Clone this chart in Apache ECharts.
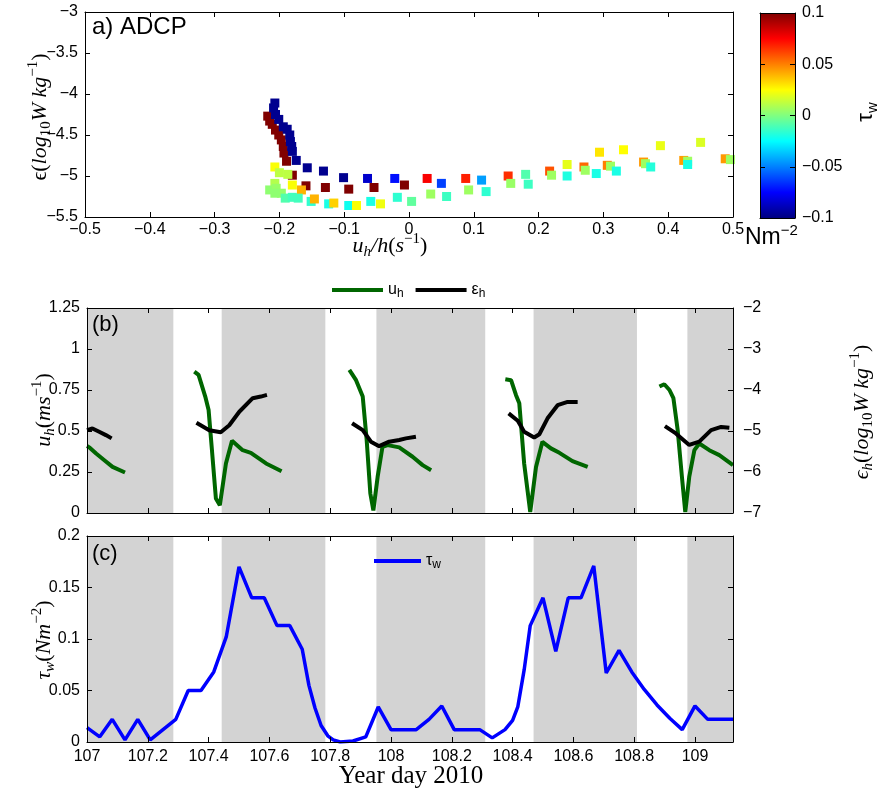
<!DOCTYPE html>
<html><head><meta charset="utf-8">
<script src="https://cdn.jsdelivr.net/npm/echarts@6/dist/echarts.min.js"></script>
<style>html,body{margin:0;padding:0;background:#fff}#c{width:884px;height:796px}</style>
</head><body><div id="c"></div><script>
// ---------- Panel (a) scatter: u_h/h, epsilon, tau_w ----------
const scatterX = [
 -0.218,-0.215,-0.211,-0.206,-0.201,-0.197,-0.194,-0.193,-0.189,-0.180,-0.159,-0.129,-0.093,-0.054,-0.007,
 -0.207,-0.209,-0.206,-0.201,-0.194,-0.188,-0.184,-0.183,-0.181,-0.180,-0.174,-0.157,-0.132,-0.101,
 -0.064,-0.022,0.050,0.112,
 0.028,0.0875,0.153,0.217,0.270,0.306,0.362,0.424,0.488,
 0.244,0.294,0.331,0.388,0.450,
 0.0335,0.092,0.157,0.220,0.272,0.311,0.365,0.430,0.496,
 -0.059,-0.018,0.004,0.058,0.119,0.184,0.180,0.244,0.289,0.320,0.373,0.430,
 -0.207,-0.200,-0.187,-0.180,-0.166,-0.207,-0.215,-0.205,-0.197,-0.207,-0.191,-0.180,-0.171,
 -0.151,-0.146,-0.124,-0.116,-0.093,-0.081,-0.044
];
const scatterY = [
 -4.27,-4.33,-4.37,-4.44,-4.50,-4.56,-4.64,-4.72,-4.82,-4.99,-5.12,-5.14,-5.16,-5.14,-5.11,
 -4.11,-4.17,-4.25,-4.31,-4.40,-4.43,-4.50,-4.58,-4.64,-4.70,-4.81,-4.90,-4.94,-5.02,
 -5.03,-5.03,-5.09,-5.05,
 -5.03,-5.03,-5.00,-4.94,-4.89,-4.87,-4.83,-4.81,-4.79,
 -4.86,-4.71,-4.68,-4.63,-4.59,
 -5.22,-5.17,-5.09,-4.99,-4.93,-4.88,-4.85,-4.82,-4.80,
 -5.31,-5.26,-5.31,-5.25,-5.19,-5.10,-4.98,-5.00,-4.97,-4.94,-4.89,-4.86,
 -4.89,-4.96,-4.98,-5.11,-5.17,-5.09,-5.17,-5.15,-5.21,-5.21,-5.27,-5.26,-5.27,
 -5.31,-5.28,-5.34,-5.33,-5.36,-5.36,-5.34
];
const scatterTau = [
 0.1,0.1,0.1,0.1,0.1,0.1,0.1,0.1,0.1,0.1,0.1,0.1,0.1,0.1,0.1,
 -0.097,-0.097,-0.097,-0.097,-0.097,-0.097,-0.097,-0.097,-0.097,-0.097,-0.097,-0.097,-0.097,-0.097,
 -0.085,-0.072,-0.0625,-0.044,
 0.076,0.069,0.066,0.059,0.055,0.050,0.045,0.044,0.045,
 0.020,0.030,0.025,0.021,0.018,
 0.006,0.006,0.005,0.006,0.006,0.006,0.006,0.006,0.006,
 -0.020,-0.016,-0.006,-0.013,-0.016,-0.013,-0.009,-0.019,-0.020,-0.020,-0.018,-0.020,
 0.024,0.012,0.012,0.024,0.040,0.010,0.003,0.005,0.004,0.003,-0.009,-0.012,-0.012,
 -0.016,0.040,-0.020,0.034,-0.022,0.024,0.022
];
// ---------- Colorbar ----------
const cbarTicks = [-0.1,-0.05,0,0.05,0.1];
const jet = ['#000080','#0000ff','#0080ff','#00ffff','#80ff80','#ffff00','#ff8000','#ff0000','#800000'];
// ---------- Night shading (b, c) ----------
const bandStart = [107.0, 107.443, 107.952, 108.469, 108.975];
const bandEnd   = [107.284, 107.784, 108.310, 108.809, 109.125];
// ---------- Panel (b) u_h (left axis) ----------
const uhTime = [107.0,107.008,107.03,107.057,107.084,107.125, 107.2,
 107.353,107.367,107.389,107.40,107.411,107.424,107.437,107.457,107.477,107.512,107.539,107.589,107.64, 107.7,
 107.863,107.885,107.907,107.92,107.932,107.942,107.956,107.972,107.989,108.027,108.071,108.104,108.132, 108.2,
 108.376,108.395,108.411,108.422,108.438,108.458,108.477,108.498,108.526,108.554,108.597,108.647, 108.7,
 108.883,108.899,108.916,108.929,108.943,108.957,108.968,108.981,108.998,109.014,109.047,109.08,109.125];
const uhVals = [0.408,0.40,0.363,0.322,0.281,0.247, null,
 0.862,0.842,0.71,0.628,0.383,0.088,0.047,0.302,0.44,0.383,0.367,0.302,0.255, null,
 0.873,0.81,0.71,0.445,0.119,0.016,0.22,0.404,0.414,0.40,0.343,0.292,0.261, null,
 0.816,0.81,0.72,0.669,0.302,0.006,0.281,0.434,0.394,0.367,0.316,0.281, null,
 0.771,0.785,0.75,0.70,0.506,0.22,0.006,0.22,0.383,0.424,0.383,0.353,0.292];
// ---------- Panel (b) epsilon_h (right axis) ----------
const ehTime = [107.0,107.018,107.04,107.062,107.081, 107.2,
 107.36,107.402,107.44,107.468,107.501,107.545,107.572,107.592, 107.7,
 107.872,107.907,107.934,107.961,107.994,108.027,108.049,108.082, 108.2,
 108.387,108.417,108.438,108.471,108.488,108.515,108.548,108.581,108.614, 108.7,
 108.901,108.937,108.981,109.014,109.053,109.086,109.113];
const ehVals = [-4.98,-4.94,-5.02,-5.10,-5.18, null,
 -4.80,-4.98,-5.03,-4.86,-4.53,-4.20,-4.16,-4.12, null,
 -4.81,-4.98,-5.26,-5.37,-5.26,-5.22,-5.18,-5.14, null,
 -4.57,-4.75,-5.02,-5.16,-5.08,-4.69,-4.37,-4.29,-4.29, null,
 -4.88,-5.06,-5.34,-5.26,-4.98,-4.90,-4.92];
// ---------- Panel (c) tau_w ----------
const tauTime = [107.0,107.042,107.083,107.125,107.167,107.208,107.25,107.292,107.333,107.375,107.417,107.458,
 107.5,107.542,107.583,107.625,107.667,107.708,107.73,107.75,107.77,107.792,107.81,107.833,107.875,107.917,107.958,
 108.0,108.042,108.083,108.125,108.167,108.208,108.25,108.292,108.333,108.375,108.4,108.417,108.438,108.458,
 108.5,108.542,108.583,108.625,108.667,108.708,108.75,108.792,108.833,108.875,108.917,108.958,
 109.0,109.042,109.083,109.125];
const tauVals = [0.014,0.005,0.022,0.002,0.022,0.002,0.012,0.022,0.050,0.050,0.068,0.102,
 0.170,0.140,0.140,0.113,0.113,0.090,0.055,0.033,0.016,0.006,0.002,0.0,0.001,0.005,0.034,
 0.012,0.012,0.012,0.022,0.035,0.012,0.012,0.012,0.004,0.012,0.021,0.034,0.070,0.113,
 0.140,0.088,0.140,0.140,0.171,0.067,0.089,0.068,0.051,0.036,0.023,0.012,
 0.035,0.022,0.022,0.022];

// ---------- helpers ----------
const SANS = 'Liberation Sans';
const SERIF = 'Liberation Serif';
const minus = s => String(s).replace('-', '\u2212');
const fmt = v => minus(Math.round(v * 1000) / 1000);
function ax(o) {
  const base = {
    type: 'value', z: 5,
    axisLine: { show: true, onZero: false, lineStyle: { color: '#000', width: 1 } },
    axisTick: { show: true, inside: true, length: 5, lineStyle: { color: '#000' } },
    splitLine: { show: false },
    axisLabel: { show: false, color: '#000', fontFamily: SANS, fontSize: 16, formatter: fmt }
  };
  const r = Object.assign({}, base, o);
  if (o.axisLabel) r.axisLabel = Object.assign({}, base.axisLabel, o.axisLabel);
  if (o.axisTick) r.axisTick = Object.assign({}, base.axisTick, o.axisTick);
  return r;
}
const pair = (t, v) => t.map((x, i) => [x, v[i] === null ? '-' : v[i]]);
const bands = bandStart.map((s, i) => [{ xAxis: s }, { xAxis: bandEnd[i] }]);

const rich = {
  n: { fontFamily: SERIF, fontStyle: 'italic', fontSize: 22, lineHeight: 28, color: '#000' },
  r: { fontFamily: SERIF, fontSize: 22, lineHeight: 28, color: '#000' },
  sb: { fontFamily: SERIF, fontStyle: 'italic', fontSize: 15, lineHeight: 14, verticalAlign: 'bottom', color: '#000' },
  sn: { fontFamily: SERIF, fontSize: 15, lineHeight: 14, verticalAlign: 'bottom', color: '#000' },
  sp: { fontFamily: SERIF, fontSize: 15, lineHeight: 14, verticalAlign: 'top', color: '#000' }
};
const srich = {
  a: { fontFamily: SANS, fontSize: 16, lineHeight: 20, color: '#000' },
  b: { fontFamily: SANS, fontSize: 12, lineHeight: 11, verticalAlign: 'bottom', color: '#000' }
};
const bigRich = {
  a: { fontFamily: SANS, fontSize: 23, lineHeight: 30, color: '#000' },
  b: { fontFamily: SANS, fontSize: 15, lineHeight: 15, verticalAlign: 'top', color: '#000' },
  c: { fontFamily: SANS, fontSize: 22, lineHeight: 28, color: '#000' },
  d: { fontFamily: SANS, fontSize: 15, lineHeight: 14, verticalAlign: 'bottom', color: '#000' }
};
function txt(x, y, text, r, rot, align) {
  return { type: 'text', x: x, y: y, rotation: rot || 0, z: 20,
    style: { text: text, rich: r, align: align || 'center', verticalAlign: 'middle' } };
}

const chart = echarts.init(document.getElementById('c'), null, { renderer: 'canvas' });
chart.setOption({
  animation: false,
  backgroundColor: '#fff',
  grid: [
    { left: 85, top: 12, width: 648, height: 205 },
    { left: 760, top: 13, width: 35, height: 205 },
    { left: 87, top: 308, width: 646, height: 205 },
    { left: 87, top: 536, width: 646, height: 206 }
  ],
  xAxis: [
    ax({ gridIndex: 0, position: 'bottom', min: -0.5, max: 0.5, interval: 0.1, axisLabel: { show: true, margin: 5 } }),
    ax({ gridIndex: 0, position: 'top', min: -0.5, max: 0.5, interval: 0.1 }),
    ax({ gridIndex: 1, position: 'bottom', min: 0, max: 1, axisTick: { show: false } }),
    ax({ gridIndex: 2, position: 'bottom', min: 107, max: 109.125, interval: 0.2 }),
    ax({ gridIndex: 2, position: 'top', min: 107, max: 109.125, interval: 0.2 }),
    ax({ gridIndex: 3, position: 'bottom', min: 107, max: 109.125, interval: 0.2,
         axisLabel: { show: true, margin: 7, showMaxLabel: false } }),
    ax({ gridIndex: 3, position: 'top', min: 107, max: 109.125, interval: 0.2 }),
    ax({ gridIndex: 1, position: 'top', min: 0, max: 1, axisTick: { show: false } })
  ],
  yAxis: [
    ax({ gridIndex: 0, position: 'left', min: -5.5, max: -3, interval: 0.5, axisLabel: { show: true, margin: 7 } }),
    ax({ gridIndex: 0, position: 'right', min: -5.5, max: -3, interval: 0.5 }),
    ax({ gridIndex: 1, position: 'right', min: -0.1, max: 0.1, interval: 0.05, axisLabel: { show: true, margin: 7 } }),
    ax({ gridIndex: 1, position: 'left', min: -0.1, max: 0.1, interval: 0.05 }),
    ax({ gridIndex: 2, position: 'left', min: 0, max: 1.25, interval: 0.25, axisLabel: { show: true, margin: 7 } }),
    ax({ gridIndex: 2, position: 'right', min: -7, max: -2, interval: 1, axisLabel: { show: true, margin: 10 } }),
    ax({ gridIndex: 3, position: 'left', min: 0, max: 0.2, interval: 0.05, axisLabel: { show: true, margin: 7 } }),
    ax({ gridIndex: 3, position: 'right', min: 0, max: 0.2, interval: 0.05 })
  ],
  visualMap: [{
    show: false, type: 'continuous', min: -0.1, max: 0.1, dimension: 2, seriesIndex: 0,
    inRange: { color: jet }
  }],
  legend: [
    { data: [{ name: 'uh', icon: 'rect' }, { name: 'eh', icon: 'rect' }], left: 332, top: 282, padding: 0,
      itemWidth: 51, itemHeight: 4, itemGap: 12,
      formatter: n => n === 'uh' ? '{a|u}{b|h}' : '{a|\u03b5}{b|h}',
      textStyle: { rich: srich } },
    { data: [{ name: 'tw', icon: 'rect' }], left: 374, top: 553, padding: 0,
      itemWidth: 47, itemHeight: 4,
      formatter: () => '{a|\u03c4}{b|w}', textStyle: { rich: srich } }
  ],
  series: [
    { type: 'scatter', name: 'adcp', xAxisIndex: 0, yAxisIndex: 0, symbol: 'rect', symbolSize: 9,
      itemStyle: { opacity: 1 },
      data: scatterX.map((x, i) => [x, scatterY[i], scatterTau[i]]) },
    { type: 'line', name: 'cbar', xAxisIndex: 2, yAxisIndex: 2, data: [], silent: true,
      markArea: { silent: true, itemStyle: { color: {
          type: 'linear', x: 0, y: 0, x2: 0, y2: 1,
          colorStops: jet.slice().reverse().map((c, i) => ({ offset: i / (jet.length - 1), color: c })) } },
        data: [[{ coord: [0, cbarTicks[cbarTicks.length - 1]] }, { coord: [1, cbarTicks[0]] }]] } },
    { type: 'line', name: 'shadeB', xAxisIndex: 3, yAxisIndex: 4, data: [], silent: true, z: 1,
      markArea: { silent: true, itemStyle: { color: '#d3d3d3' }, data: bands } },
    { type: 'line', name: 'shadeC', xAxisIndex: 5, yAxisIndex: 6, data: [], silent: true, z: 1,
      markArea: { silent: true, itemStyle: { color: '#d3d3d3' }, data: bands } },
    { type: 'line', name: 'uh', xAxisIndex: 3, yAxisIndex: 4, showSymbol: false, connectNulls: false, z: 3,
      color: '#006600', lineStyle: { width: 4, color: '#006600' }, data: pair(uhTime, uhVals) },
    { type: 'line', name: 'eh', xAxisIndex: 3, yAxisIndex: 5, showSymbol: false, connectNulls: false, z: 4,
      color: '#000000', lineStyle: { width: 4, color: '#000000' }, data: pair(ehTime, ehVals) },
    { type: 'line', name: 'tw', xAxisIndex: 5, yAxisIndex: 6, showSymbol: false, z: 3,
      color: '#0000ff', lineStyle: { width: 3.5, color: '#0000ff' }, data: pair(tauTime, tauVals) }
  ],
  graphic: [
    { type: 'text', x: 92, y: 27, z: 20, style: { text: 'a) ADCP', font: '24px "Liberation Sans"', fill: '#000', verticalAlign: 'middle' } },
    { type: 'text', x: 92, y: 325, z: 20, style: { text: '(b)', font: '22px "Liberation Sans"', fill: '#000', verticalAlign: 'middle' } },
    { type: 'text', x: 92, y: 554, z: 20, style: { text: '(c)', font: '22px "Liberation Sans"', fill: '#000', verticalAlign: 'middle' } },
    txt(40, 117, '{r|\u03f5(}{n|log}{sn|10}{n|W kg}{sp|\u22121}{r|)}', rich, Math.PI / 2),
    txt(390, 246, '{n|u}{sb|h}{n|/h}{r|(}{n|s}{sp|\u22121}{r|)}', rich, 0),
    txt(44, 410, '{n|u}{sb|h}{r|(}{n|ms}{sp|\u22121}{r|)}', rich, Math.PI / 2),
    txt(862, 412, '{n|\u03f5}{sb|h}{r|(}{n|log}{sn|10}{n|W kg}{sp|\u22121}{r|)}', rich, Math.PI / 2),
    txt(44, 640, '{n|\u03c4}{sb|w}{r|(}{n|Nm}{sp|\u22122}{r|)}', rich, Math.PI / 2),
    { type: 'text', x: 411, y: 776, z: 20, style: { text: 'Year day 2010', font: '25px "Liberation Serif"', fill: '#000', align: 'center', verticalAlign: 'middle' } },
    txt(866, 112, '{c|\u03c4}{d|w}', bigRich, Math.PI / 2),
    txt(745, 238, '{a|Nm}{b|\u22122}', bigRich, 0, 'left')
  ]
});
</script></body></html>
